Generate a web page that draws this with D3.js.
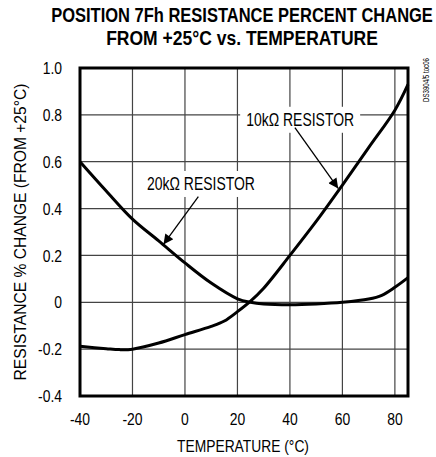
<!DOCTYPE html>
<html><head><meta charset="utf-8">
<script src="https://cdn.jsdelivr.net/npm/d3@7"></script>
<style>body{margin:0;background:#fff}svg{display:block}</style>
</head><body>
<script>
// ---- data ----
const temps20k = [-40,-30,-20,-10,0,10,20,25,30,40,50,60,70,75,80,85];
const res20k   = [0.60,0.475,0.355,0.262,0.168,0.082,0.015,0.0,-0.007,-0.01,-0.007,0.0,0.014,0.03,0.064,0.105];
const temps10k = [-40,-30,-25,-20,-10,0,10,15,20,25,30,40,50,60,70,80,85];
const res10k   = [-0.188,-0.198,-0.202,-0.2,-0.174,-0.138,-0.103,-0.08,-0.04,0.005,0.06,0.2,0.345,0.5,0.66,0.82,0.93];
const xTicks = [-40,-20,0,20,40,60,80];
const yTicks = [-0.4,-0.2,0,0.2,0.4,0.6,0.8,1.0];
const titleLines = ["POSITION 7Fh RESISTANCE PERCENT CHANGE","FROM +25°C vs. TEMPERATURE"];
const xTitle = "TEMPERATURE (°C)";
const yTitle = "RESISTANCE % CHANGE (FROM +25°C)";
const docId = "DS3904/5 toc06";
const labels = [
  {text:"10kΩ RESISTOR", t:43.9, v:0.779, from:[41.9,0.745], to:[58.4,0.486]},
  {text:"20kΩ RESISTOR", t:6.1, v:0.505, from:[5.1,0.451], to:[-8.2,0.247]}
];

const W=436,H=457;
const m={l:80,r:28,t:68,b:61};
const font='"Liberation Sans",Arial,sans-serif';
const svg=d3.select("body").append("svg").attr("width",W).attr("height",H);
const x=d3.scaleLinear().domain([-40,85]).range([m.l,W-m.r]);
const y=d3.scaleLinear().domain([-0.4,1.0]).range([H-m.b,m.t]);
const SX=0.82;

// fit a text to a target width by horizontal scaling
function fit(sel, cx, cy, target){
  sel.each(function(){
    const w=this.getComputedTextLength();
    d3.select(this).attr("transform",`translate(${cx},${cy}) scale(${target/w},1)`);
  });
}

// title
const tw=[382,272];
titleLines.forEach((t,i)=>{
  const s=svg.append("text").attr("text-anchor","middle")
    .attr("font-family",font).attr("font-weight","bold").attr("font-size",20.5).text(t);
  fit(s,242,22+i*23,tw[i]);
});

// grid
const g=svg.append("g");
g.selectAll("line.gx").data(xTicks.filter(d=>d>-40)).join("line")
  .attr("x1",d=>x(d)).attr("x2",d=>x(d)).attr("y1",m.t).attr("y2",H-m.b)
  .attr("stroke","#444").attr("stroke-width",1.2);
g.selectAll("line.gy").data(yTicks.filter(d=>d>-0.4&&d<1.0)).join("line")
  .attr("y1",d=>y(d)).attr("y2",d=>y(d)).attr("x1",m.l).attr("x2",W-m.r)
  .attr("stroke","#444").attr("stroke-width",1.2);

// label backgrounds
labels.forEach(L=>{
  const cx=x(L.t), cy=y(L.v);
  svg.append("rect").attr("x",cx-60).attr("y",cy-13).attr("width",120).attr("height",26).attr("fill","#fff");
});

// curves
const line=d3.line().x(d=>x(d[0])).y(d=>y(d[1])).curve(d3.curveCatmullRom.alpha(0.5));
svg.append("path").datum(temps20k.map((t,i)=>[t,res20k[i]])).attr("d",line)
  .attr("fill","none").attr("stroke","#000").attr("stroke-width",3);
svg.append("path").datum(temps10k.map((t,i)=>[t,res10k[i]])).attr("d",line)
  .attr("fill","none").attr("stroke","#000").attr("stroke-width",3);

// frame
svg.append("rect").attr("x",m.l).attr("y",m.t).attr("width",W-m.l-m.r).attr("height",H-m.t-m.b)
  .attr("fill","none").attr("stroke","#000").attr("stroke-width",3);

// labels and arrows
svg.append("defs").append("marker").attr("id","ah").attr("viewBox","0 0 10 10")
  .attr("refX",10).attr("refY",5).attr("markerWidth",13).attr("markerHeight",10)
  .attr("markerUnits","userSpaceOnUse").attr("orient","auto")
  .append("path").attr("d","M0,0L10,5L0,10Z").attr("fill","#000");
labels.forEach(L=>{
  const s=svg.append("text").attr("dy","0.36em")
    .attr("text-anchor","middle").attr("font-family",font).attr("font-size",17.5)
    .text(L.text);
  fit(s,x(L.t),y(L.v),108);
  svg.append("line").attr("x1",x(L.from[0])).attr("y1",y(L.from[1]))
    .attr("x2",x(L.to[0])).attr("y2",y(L.to[1]))
    .attr("stroke","#000").attr("stroke-width",1.3).attr("marker-end","url(#ah)");
});

// axes tick labels
svg.selectAll("text.yt").data(yTicks).join("text")
  .attr("transform",d=>`translate(62,${y(d)}) scale(${SX},1)`).attr("dy","0.36em").attr("text-anchor","end")
  .attr("font-family",font).attr("font-size",17)
  .text(d=>d===0?"0":d.toFixed(1));
svg.selectAll("text.xt").data(xTicks).join("text")
  .attr("transform",d=>`translate(${x(d)},419) scale(${SX},1)`).attr("dy","0.36em").attr("text-anchor","middle")
  .attr("font-family",font).attr("font-size",17).text(d=>d);
const xt=svg.append("text").attr("dy","0.36em").attr("text-anchor","middle")
  .attr("font-family",font).attr("font-size",17).text(xTitle);
fit(xt,243,446,132);
const yt=svg.append("text").attr("dy","0.36em")
  .attr("text-anchor","middle").attr("font-family",font).attr("font-size",17).text(yTitle);
yt.each(function(){
  const w=this.getComputedTextLength();
  d3.select(this).attr("transform",`translate(20,232) rotate(-90) scale(${297/w},1)`);
});
const dt=svg.append("text").attr("dy","0.36em")
  .attr("text-anchor","middle").attr("font-family",font).attr("font-size",8.5).text(docId);
dt.each(function(){
  const w=this.getComputedTextLength();
  d3.select(this).attr("transform",`translate(426,80) rotate(-90) scale(${44/w},1)`);
});
</script>
</body></html>
